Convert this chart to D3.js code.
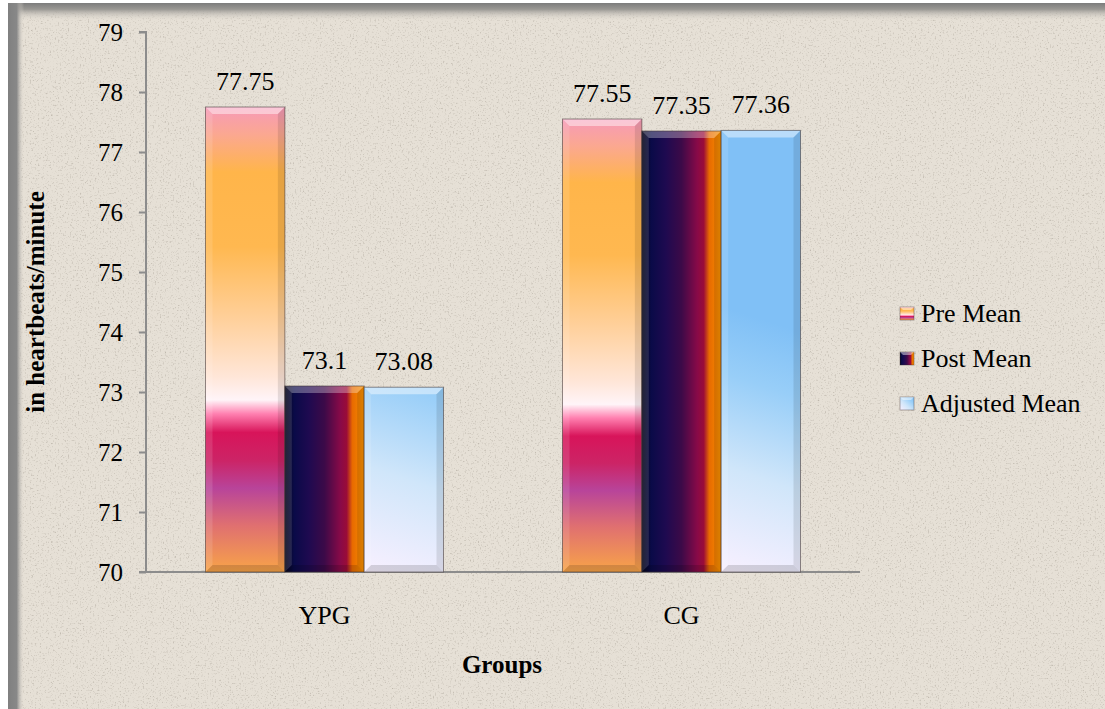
<html><head>
<script src="https://d3js.org/d3.v7.min.js"></script>
<style>
  body { margin: 0; background: #fff; }
  svg text { font-family: "Liberation Serif", "Times New Roman", serif !important; fill: #000; }
</style>
</head>
<body>
<svg id="chart" width="1105" height="709"></svg>
<script>
// data
const groups = ["YPG", "CG"];
const seriesNames = ["Pre Mean", "Post Mean", "Adjusted Mean"];
const preMean = [77.75, 77.55];
const postMean = [73.1, 77.35];
const adjustedMean = [73.08, 77.36];
const yTicks = [70, 71, 72, 73, 74, 75, 76, 77, 78, 79];

const series = [preMean, postMean, adjustedMean];

let svg = d3.select("svg#chart");
const width = +svg.attr("width");
const height = +svg.attr("height");

let defs = svg.append("defs");

// paper texture
let noise = defs.append("filter").attr("id", "noise")
  .attr("x", 0).attr("y", 0).attr("width", "100%").attr("height", "100%");
noise.append("feTurbulence").attr("type", "fractalNoise")
  .attr("baseFrequency", 0.6).attr("numOctaves", 2).attr("seed", 4);
noise.append("feColorMatrix").attr("type", "matrix")
  .attr("values", "0 0 0 0 0.5  0 0 0 0 0.46  0 0 0 0 0.4  2.6 0 0 0 -1.45");

// frame shadows
let topShade = defs.append("linearGradient").attr("id", "topShade")
  .attr("x1", 0).attr("y1", 0).attr("x2", 0).attr("y2", 1);
topShade.append("stop").attr("offset", 0).attr("stop-color", "#7c7c7c");
topShade.append("stop").attr("offset", 0.35).attr("stop-color", "#9a9894");
topShade.append("stop").attr("offset", 1).attr("stop-color", "#e6e0d6").attr("stop-opacity", 0);
let leftShade = defs.append("linearGradient").attr("id", "leftShade")
  .attr("x1", 0).attr("y1", 0).attr("x2", 1).attr("y2", 0);
leftShade.append("stop").attr("offset", 0).attr("stop-color", "#808080");
leftShade.append("stop").attr("offset", 0.55).attr("stop-color", "#888888");
leftShade.append("stop").attr("offset", 1).attr("stop-color", "#e6e0d6").attr("stop-opacity", 0);

// bar fills
let preGrad = defs.append("linearGradient").attr("id", "preGrad")
  .attr("x1", 0).attr("y1", 0).attr("x2", 0).attr("y2", 1);
[[0, "#f69ab8"], [0.06, "#fba890"], [0.14, "#ffb54a"], [0.3, "#ffb850"],
 [0.45, "#ffcf98"], [0.58, "#ffe6d8"], [0.63, "#fff4f8"], [0.66, "#ff80b0"],
 [0.7, "#d8145a"], [0.76, "#cc2466"], [0.82, "#b8449a"], [0.9, "#e07070"],
 [1, "#f8a448"]].forEach(s => preGrad.append("stop").attr("offset", s[0]).attr("stop-color", s[1]));

let postGrad = defs.append("linearGradient").attr("id", "postGrad")
  .attr("x1", 0).attr("y1", 0).attr("x2", 1).attr("y2", 0);
[[0, "#050518"], [0.12, "#0a0a48"], [0.3, "#1e0a50"], [0.5, "#3c0a48"],
 [0.7, "#880a48"], [0.78, "#9a0c38"], [0.85, "#e86a00"], [1, "#f59000"]]
  .forEach(s => postGrad.append("stop").attr("offset", s[0]).attr("stop-color", s[1]));

let adjStops = [[0, "#f8f0ff"], [0.4, "#d0e6fa"], [0.75, "#98cef8"], [1, "#80c0f6"]];

// scales
const x0 = d3.scaleBand().domain(groups).range([146, 860]);
const x1 = d3.scaleBand().domain(seriesNames).range([0, x0.bandwidth()])
  .paddingInner(0).paddingOuter(0.75);
const y = d3.scaleLinear().domain([70, 79]).range([572, 32]);

// background
svg.append("rect").attr("x", 8).attr("y", 3).attr("width", width - 8).attr("height", height - 3)
   .attr("fill", "#e6e0d6");
svg.append("rect").attr("x", 8).attr("y", 3).attr("width", width - 8).attr("height", height - 3)
   .attr("filter", "url(#noise)");
svg.append("rect").attr("x", 8).attr("y", 3).attr("width", width - 8).attr("height", 18)
   .attr("fill", "url(#topShade)");
svg.append("rect").attr("x", 8).attr("y", 3).attr("width", 16).attr("height", height - 3)
   .attr("fill", "url(#leftShade)");

// axes
let yAxis = d3.axisLeft(y).tickValues(yTicks).tickSize(7).tickPadding(16).tickFormat(d3.format("d"));
let yg = svg.append("g").attr("transform", "translate(146,0)").call(yAxis)
  .attr("font-family", null).attr("font-size", null);
yg.select(".domain").attr("stroke", "#8c8c8c").attr("stroke-width", 2)
  .attr("d", "M-7," + y(79) + "H0V" + y(70));
yg.selectAll(".tick line").attr("stroke", "#8c8c8c").attr("stroke-width", 2);
yg.selectAll(".tick text").attr("font-size", 25).attr("fill", "#000").attr("dy", "0.33em");

svg.append("line").attr("x1", 139).attr("x2", 860).attr("y1", y(70)).attr("y2", y(70))
   .attr("stroke", "#8c8c8c").attr("stroke-width", 2);

// bars
const bev = 7;
let bars = svg.append("g");
groups.forEach((g, gi) => {
  seriesNames.forEach((s, si) => {
    const v = series[si][gi];
    const bx = x0(g) + x1(s);
    const bw = x1.bandwidth();
    const by = y(v);
    const bh = y(70) - by;
    let fill;
    if (si == 0) fill = "url(#preGrad)";
    else if (si == 1) fill = "url(#postGrad)";
    else {
      let id = "adjGrad" + gi;
      let ag = defs.append("linearGradient").attr("id", id).attr("gradientUnits", "userSpaceOnUse")
        .attr("x1", bx).attr("y1", y(70)).attr("x2", bx + bw).attr("y2", y(70) - 240);
      adjStops.forEach(st => ag.append("stop").attr("offset", st[0]).attr("stop-color", st[1]));
      fill = "url(#" + id + ")";
    }
    bars.append("rect").attr("x", bx).attr("y", by).attr("width", bw).attr("height", bh)
        .attr("fill", fill);
    // bevel
    bars.append("polygon").attr("points", [[bx, by], [bx + bw, by], [bx + bw - bev, by + bev], [bx + bev, by + bev]].join(" "))
        .attr("fill", "#fff").attr("opacity", si == 1 ? 0.3 : 0.45);
    bars.append("polygon").attr("points", [[bx, by], [bx + bev, by + bev], [bx + bev, by + bh - bev], [bx, by + bh]].join(" "))
        .attr("fill", "#fff").attr("opacity", 0.12);
    bars.append("polygon").attr("points", [[bx + bw, by], [bx + bw, by + bh], [bx + bw - bev, by + bh - bev], [bx + bw - bev, by + bev]].join(" "))
        .attr("fill", "#000").attr("opacity", 0.1);
    bars.append("polygon").attr("points", [[bx, by + bh], [bx + bev, by + bh - bev], [bx + bw - bev, by + bh - bev], [bx + bw, by + bh]].join(" "))
        .attr("fill", "#000").attr("opacity", 0.14);
    bars.append("rect").attr("x", bx).attr("y", by).attr("width", bw).attr("height", bh)
        .attr("fill", "none").attr("stroke", "#3c3030").attr("stroke-opacity", 0.55).attr("stroke-width", 1);
    // value label
    svg.append("text").attr("x", bx + bw / 2).attr("y", by - 17)
       .attr("text-anchor", "middle").attr("font-size", 26).text(String(v));
  });
  svg.append("text").attr("x", x0(g) + x0.bandwidth() / 2).attr("y", 624)
     .attr("text-anchor", "middle").attr("font-size", 26).text(g);
});

// axis titles
svg.append("text").attr("x", 502).attr("y", 673).attr("text-anchor", "middle")
   .attr("font-size", 25).attr("font-weight", "bold").text("Groups");
svg.append("text").attr("transform", "translate(44,302) rotate(-90)").attr("text-anchor", "middle")
   .attr("font-size", 25).attr("font-weight", "bold").text("in heartbeats/minute");

// legend
const legendFills = ["url(#preGrad)", "url(#postGrad)", "url(#legAdj)"];
let la = defs.append("linearGradient").attr("id", "legAdj")
  .attr("x1", 0).attr("y1", 1).attr("x2", 1).attr("y2", 0);
adjStops.forEach(st => la.append("stop").attr("offset", st[0]).attr("stop-color", st[1]));
let legend = svg.append("g");
seriesNames.forEach((s, i) => {
  const ly = 313 + i * 45;
  legend.append("rect").attr("x", 900).attr("y", ly - 6).attr("width", 14).attr("height", 13)
        .attr("fill", legendFills[i]).attr("stroke", "#3c3030").attr("stroke-opacity", 0.4);
  legend.append("polygon").attr("points", [[900, ly - 6], [914, ly - 6], [911, ly - 3], [903, ly - 3]].join(" "))
        .attr("fill", "#fff").attr("opacity", 0.45);
  legend.append("text").attr("x", 921).attr("y", ly + 9).attr("font-size", 26).text(s);
});
</script>
</body>
</html>
